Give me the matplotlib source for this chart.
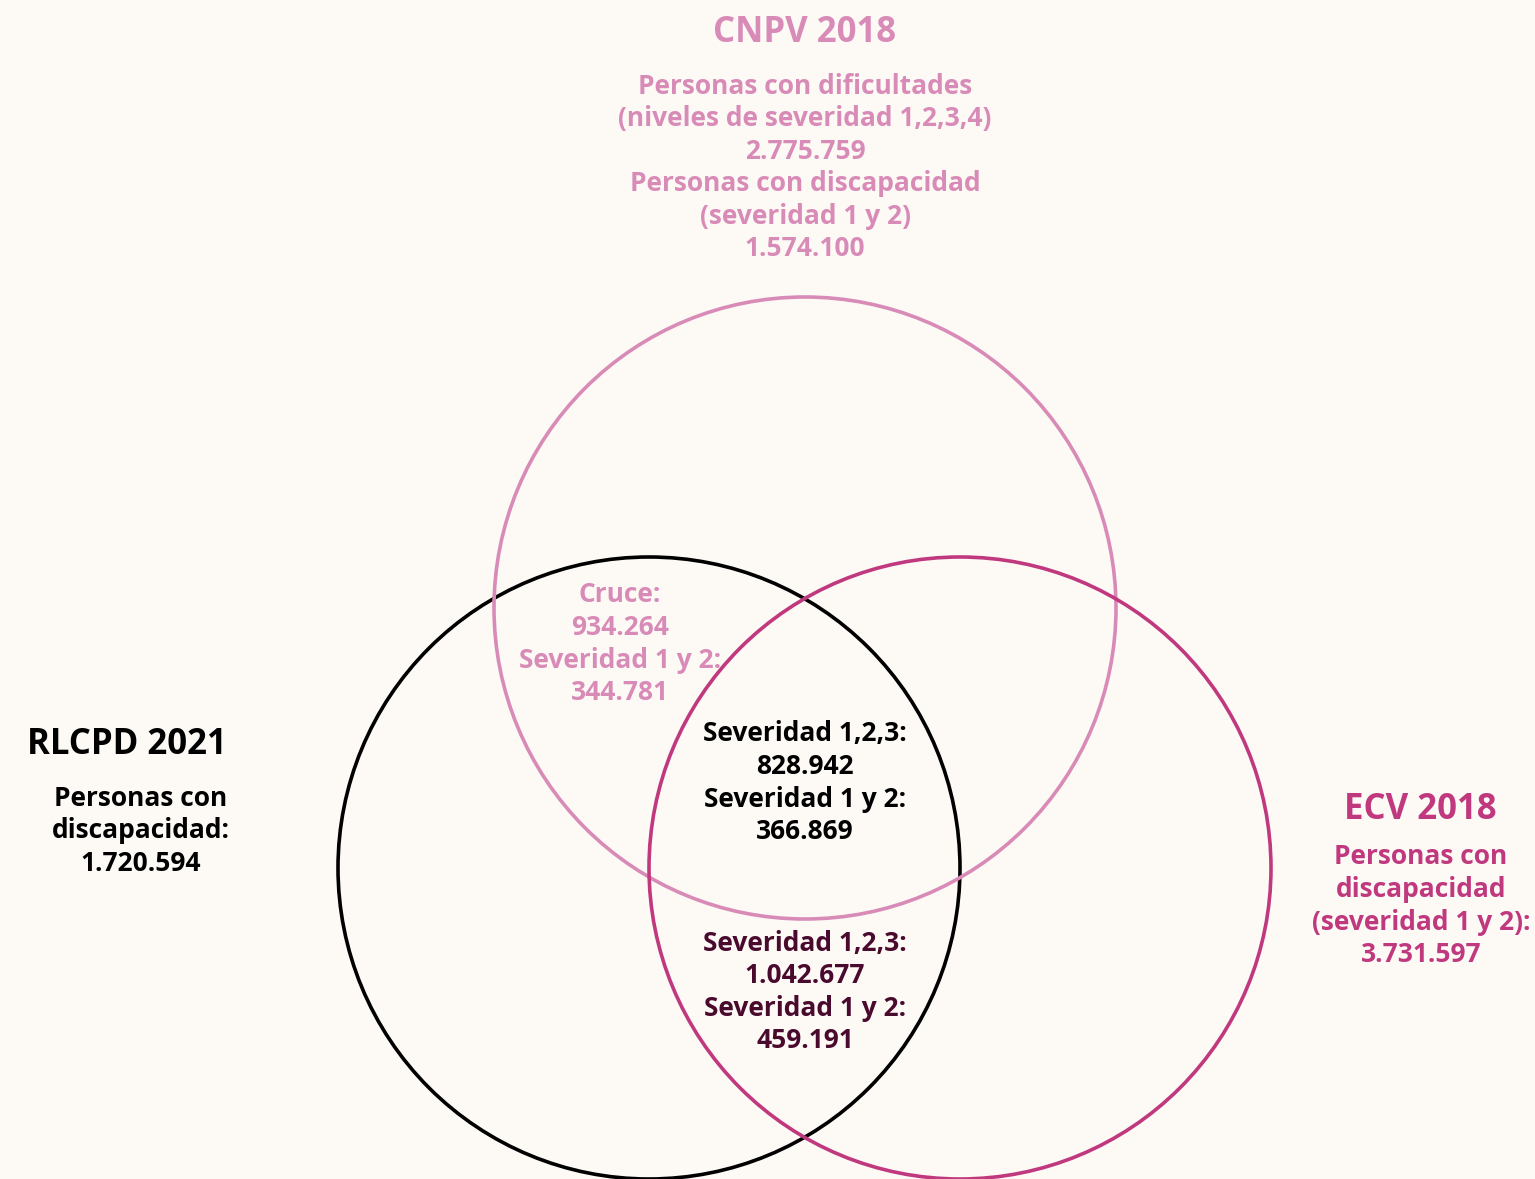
import matplotlib
matplotlib.use("Agg")
import matplotlib.pyplot as plt
from matplotlib.patches import Circle

# ---- data ----
sets = ["CNPV 2018", "RLCPD 2021", "ECV 2018"]
cnpv_body = ["Personas con dificultades", "(niveles de severidad 1,2,3,4)", "2.775.759",
             "Personas con discapacidad", "(severidad 1 y 2)", "1.574.100"]
rlcpd_body = ["Personas con", "discapacidad:", "1.720.594"]
ecv_body = ["Personas con", "discapacidad", "(severidad 1 y 2):", "3.731.597"]
cruce_cnpv_rlcpd = ["Cruce:", "934.264", "Severidad 1 y 2:", "344.781"]
cruce_centro = ["Severidad 1,2,3:", "828.942", "Severidad 1 y 2:", "366.869"]
cruce_rlcpd_ecv = ["Severidad 1,2,3:", "1.042.677", "Severidad 1 y 2:", "459.191"]

BG = "#FDFAF5"
PINK = "#D98BB8"
MAGENTA = "#C0397F"
BLACK = "#000000"
MAROON = "#4A0A2E"

W, H = 1535, 1179
fig = plt.figure(figsize=(W / 100, H / 100), dpi=100, facecolor=BG)
ax = fig.add_axes([0, 0, 1, 1])
ax.set_xlim(0, W)
ax.set_ylim(H, 0)
ax.set_facecolor(BG)
ax.axis("off")

plt.rcParams["font.family"] = ["Open Sans", "DejaVu Sans"]

R = 311
ax.add_patch(Circle((805, 608), R, fill=False, ec=PINK, lw=2.6, zorder=2))
ax.add_patch(Circle((649, 868), R, fill=False, ec=BLACK, lw=2.6, zorder=1))
ax.add_patch(Circle((960, 868), R, fill=False, ec=MAGENTA, lw=2.6, zorder=3))

BODY = 19
TITLE = 25
STEP = 32.6


def block(lines, x, y0, color, size=BODY):
    for i, s in enumerate(lines):
        ax.text(x, y0 + i * STEP, s, ha="center", va="center", color=color,
                fontsize=size, fontweight="bold", zorder=5)


ax.text(805, 33, sets[0], ha="center", va="center", color=PINK,
        fontsize=TITLE, fontweight="bold")
block(cnpv_body, 805, 86, PINK)

ax.text(127, 745, sets[1], ha="center", va="center", color=BLACK,
        fontsize=TITLE, fontweight="bold")
block(rlcpd_body, 141, 798, BLACK)

ax.text(1420, 810, sets[2], ha="center", va="center", color=MAGENTA,
        fontsize=TITLE, fontweight="bold")
block(ecv_body, 1421, 857, MAGENTA)

block(cruce_cnpv_rlcpd, 620, 595, PINK)
block(cruce_centro, 805, 734, BLACK)
block(cruce_rlcpd_ecv, 805, 943, MAROON)

fig.savefig("out.png", dpi=100, facecolor=BG)
